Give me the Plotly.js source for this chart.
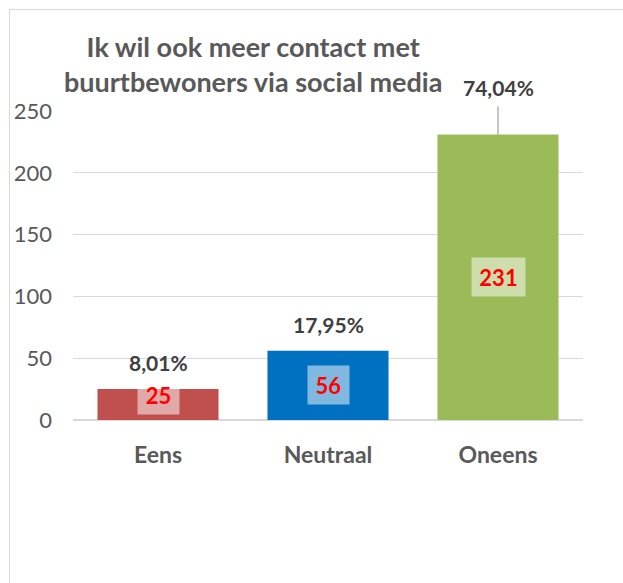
<!DOCTYPE html>
<html>
<head>
<meta charset="utf-8">
<script src="https://cdn.plot.ly/plotly-3.0.1.min.js"></script>
<style>
  html, body { margin: 0; padding: 0; background: #fff; }
  #wrap { position: relative; width: 623px; height: 583px; overflow: hidden; }
  #chart { position: absolute; left: 0; top: 0; width: 623px; height: 583px; }
  #frame { position: absolute; left: 9px; top: 9px; width: 700px; height: 700px;
           border-left: 1.5px solid #D9D9D9; border-top: 1.5px solid #D9D9D9; pointer-events: none; }
</style>
</head>
<body>
<div id="wrap"><div id="chart"></div><div id="frame"></div></div>
<script>
// ---- data ----
const categories = ["Eens", "Neutraal", "Oneens"];
const counts = [25, 56, 231];
const percentLabels = ["8,01%", "17,95%", "74,04%"];
const barColors = ["#C0504D", "#0070C0", "#9BBB59"];
const yTicks = [0, 50, 100, 150, 200, 250];
const titleText = "Ik wil ook meer contact met<br>buurtbewoners via social media";

const FONT = "Lato, 'Open Sans', sans-serif";

const trace = {
  type: "bar",
  x: categories,
  y: counts,
  marker: { color: barColors, line: { width: 0 } },
  hoverinfo: "none"
};

const annotations = [];
categories.forEach((c, i) => {
  const txt = String(counts[i]);
  annotations.push({
    x: c, y: counts[i] / 2, xref: "x", yref: "y",
    text: "<b>" + txt + "</b>", showarrow: false,
    font: { family: FONT, size: 22, color: "#FF0000" },
    bgcolor: "rgba(255,255,255,0.5)",
    width: 17 + 12 * txt.length, height: 38,
    borderpad: 0,
    yshift: i === 0 ? 10 : 0
  });
  if (i === categories.length - 1) {
    annotations.push({
      x: c, y: counts[i], xref: "x", yref: "y",
      text: "<b>" + percentLabels[i] + "</b>",
      showarrow: true, arrowhead: 0, arrowwidth: 1.3, arrowcolor: "#A6A6A6",
      ax: 0, ay: -47, borderpad: 6,
      font: { family: FONT, size: 21, color: "#404040" }
    });
  } else {
    annotations.push({
      x: c, y: counts[i], xref: "x", yref: "y",
      text: "<b>" + percentLabels[i] + "</b>", showarrow: false,
      yanchor: "bottom", yshift: 12,
      font: { family: FONT, size: 21, color: "#404040" }
    });
  }
});

annotations.push({
  xref: "paper", yref: "paper",
  x: (253 - 73) / 510, y: 1, yanchor: "bottom", yshift: 11,
  text: "<b>" + titleText + "</b>", showarrow: false, align: "center",
  font: { family: FONT, size: 27, color: "#595959" }
});

const layout = {
  width: 623, height: 583,
  margin: { l: 73, r: 40, t: 111, b: 163 },
  paper_bgcolor: "rgba(0,0,0,0)",
  plot_bgcolor: "rgba(0,0,0,0)",
  showlegend: false,
  bargap: 0.288,
  font: { family: FONT, color: "#595959" },
  xaxis: {
    type: "category",
    showgrid: false, showline: false, zeroline: false, ticks: "",
    tickfont: { family: FONT, size: 23, color: "#595959", weight: "bold" },
    ticklabelstandoff: 19
  },
  yaxis: {
    range: [0, 250], tickvals: yTicks, ticktext: yTicks.map(String),
    showgrid: true, gridcolor: "#D9D9D9", gridwidth: 1.3,
    zeroline: true, zerolinecolor: "#D9D9D9", zerolinewidth: 1.3,
    showline: false, ticks: "",
    tickfont: { family: FONT, size: 22, color: "#595959" },
    ticklabelstandoff: 20
  },
  annotations: annotations
};

Plotly.newPlot("chart", [trace], layout, { displayModeBar: false, staticPlot: true });
</script>
</body>
</html>
